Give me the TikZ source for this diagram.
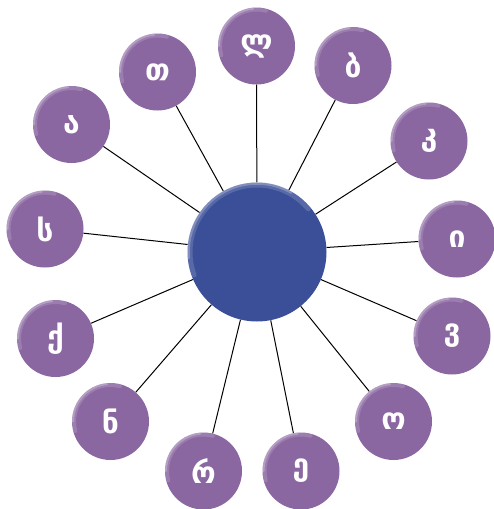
\documentclass[tikz,border=0pt]{standalone}
\usepackage{fontspec}
\newfontfamily\geo{DejaVu Sans}
\definecolor{petal}{HTML}{8B67A1}
\definecolor{hub}{HTML}{3A4F98}
\begin{document}
\begin{tikzpicture}[x=1pt,y=-1pt,
  petal/.style={circle,fill=petal,minimum size=77pt,inner sep=0pt,text=white,font=\geo\bfseries\fontsize{30}{30}\selectfont},
  hubnode/.style={circle,fill=hub,minimum size=139pt,inner sep=0pt},
  spoke/.style={draw=black,line width=1pt},
  rim/.style={white,line cap=round}]
\useasboundingbox (0,0) rectangle (494,509);
\node[hubnode] (c) at (257,252) {};
\node[petal] (p1) at (256.5,46) {ლ};
\node[petal] (p2) at (353,65.5) {ბ};
\node[petal] (p3) at (429,141) {კ};
\node[petal] (p4) at (457,239) {ი};
\node[petal] (p5) at (452,336) {ვ};
\node[petal] (p6) at (393.5,421.5) {ო};
\node[petal] (p7) at (301,471) {ე};
\node[petal] (p8) at (203.5,471) {რ};
\node[petal] (p9) at (110.5,421.5) {ნ};
\node[petal] (p10) at (55.5,338.5) {ქ};
\node[petal] (p11) at (45,229) {ს};
\node[petal] (p12) at (71.5,124.5) {ა};
\node[petal] (p13) at (157.5,72) {თ};
\foreach \i in {1,...,13} {
  \draw[spoke] (c) -- (p\i);
  \draw[rim,opacity=0.15,line width=4pt] (p\i.center) ++(75:36.5pt) arc[start angle=75,end angle=195,radius=36.5pt];
  \draw[rim,opacity=0.25,line width=2pt] (p\i.center) ++(95:37.5pt) arc[start angle=95,end angle=180,radius=37.5pt];
}
\draw[rim,opacity=0.15,line width=5pt] (c.center) ++(40:67pt) arc[start angle=40,end angle=200,radius=67pt];
\draw[rim,opacity=0.25,line width=2.5pt] (c.center) ++(60:68.5pt) arc[start angle=60,end angle=185,radius=68.5pt];
\end{tikzpicture}
\end{document}
